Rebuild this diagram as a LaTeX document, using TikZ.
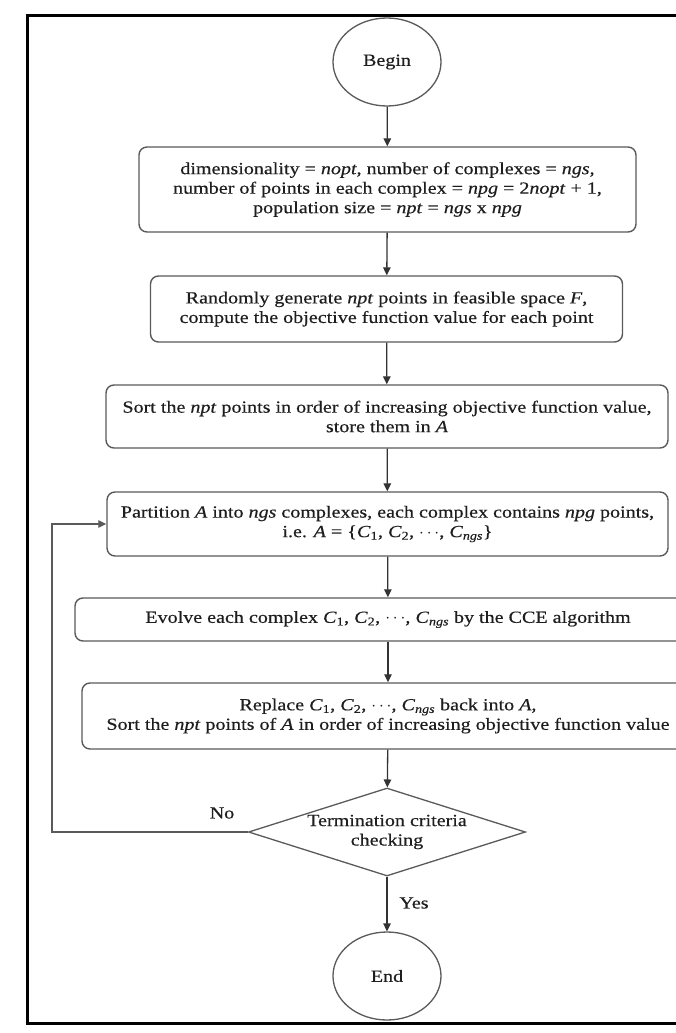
\documentclass[tikz,border=0pt]{standalone}
\usepackage{fontspec}
\setmainfont{Liberation Serif}[FakeStretch=1.18,FakeBold=0.4]
\usetikzlibrary{shapes.geometric,arrows.meta}
\newcommand\Cs[1]{\textit{C}\textsubscript{#1}}
\definecolor{boxline}{HTML}{5A5A5A}
\definecolor{txt}{HTML}{1E1E1E}
\definecolor{arrowc}{HTML}{333333}
\tikzset{
  every node/.style={text=txt,font=\fontsize{17}{19.5}\selectfont},
  procbox/.style={draw=boxline,line width=1.4pt,rounded corners=8pt,align=center,inner sep=2pt},
  term/.style={draw=boxline,line width=1.3pt,ellipse,minimum width=108pt,minimum height=88pt,inner sep=0pt},
  decision/.style={draw=boxline,line width=1.3pt,diamond,aspect=3.15,minimum width=277pt,minimum height=88pt,inner sep=0pt,align=center},
  flow/.style={color=arrowc,line width=1.3pt,>={Triangle[length=8pt,width=7.5pt]},->},
  lbl/.style={inner sep=0pt}
}
\begin{document}
\begin{tikzpicture}[x=1pt,y=1pt]
\useasboundingbox (0,0) rectangle (676,-1033);
\fill[white] (-10,10) rectangle (690,-1045);
\draw[line width=3pt,black] (690,-16) -- (27,-16) -- (27,-1023) -- (690,-1023);

\node[term] (begin) at (387,-62) {Begin};
\node[procbox,minimum width=497pt,minimum height=85pt] (b1) at (387.5,-189.5)
  {dimensionality = \textit{nopt}, number of complexes = \textit{ngs},\\
   number of points in each complex = \textit{npg} = 2\textit{nopt} + 1,\\
   population size = \textit{npt} = \textit{ngs} x \textit{npg}};
\node[procbox,minimum width=472pt,minimum height=66pt] (b2) at (386.5,-309)
  {Randomly generate \textit{npt} points in feasible space \textit{F},\\
   compute the objective function value for each point};
\node[procbox,minimum width=562pt,minimum height=63pt] (b3) at (387,-416.5)
  {Sort the \textit{npt} points in order of increasing objective function value,\\
   store them in \textit{A}};
\node[procbox,minimum width=561pt,minimum height=64pt] (b4) at (387.5,-524)
  {Partition \textit{A} into \textit{ngs} complexes, each complex contains \textit{npg} points,\\
   i.e. \textit{A} = \{\Cs{1}, \Cs{2}, $\cdots$, \Cs{\textit{ngs}}\}};
\node[procbox,minimum width=626pt,minimum height=43pt] (b5) at (388,-619.5)
  {Evolve each complex \Cs{1}, \Cs{2}, $\cdots$, \Cs{\textit{ngs}} by the CCE algorithm};
\node[procbox,minimum width=612pt,minimum height=66pt] (b6) at (388,-716)
  {Replace \Cs{1}, \Cs{2}, $\cdots$, \Cs{\textit{ngs}} back into \textit{A},\\
   Sort the \textit{npt} points of \textit{A} in order of increasing objective function value};
\node[decision] (dec) at (387,-832) {Termination criteria\\checking};
\node[term] (end) at (387,-976) {End};

\coordinate (fb) at (52,-832);
\node[lbl] (no) at (222,-813) {No};
\node[lbl] (yes) at (414,-903) {Yes};

\draw[flow] (begin) -- (b1);
\draw[flow] (b1) -- (b2);
\draw[flow] (b2) -- (b3);
\draw[flow] (b3) -- (b4);
\draw[flow] (b4) -- (b5);
\draw[flow] (b5) -- (b6);
\draw[flow] (b6) -- (dec);
\draw[flow] (dec) -- (end);
\draw[flow,color=boxline] (dec.west) -- (fb) |- (b4.west);
\end{tikzpicture}
\end{document}
